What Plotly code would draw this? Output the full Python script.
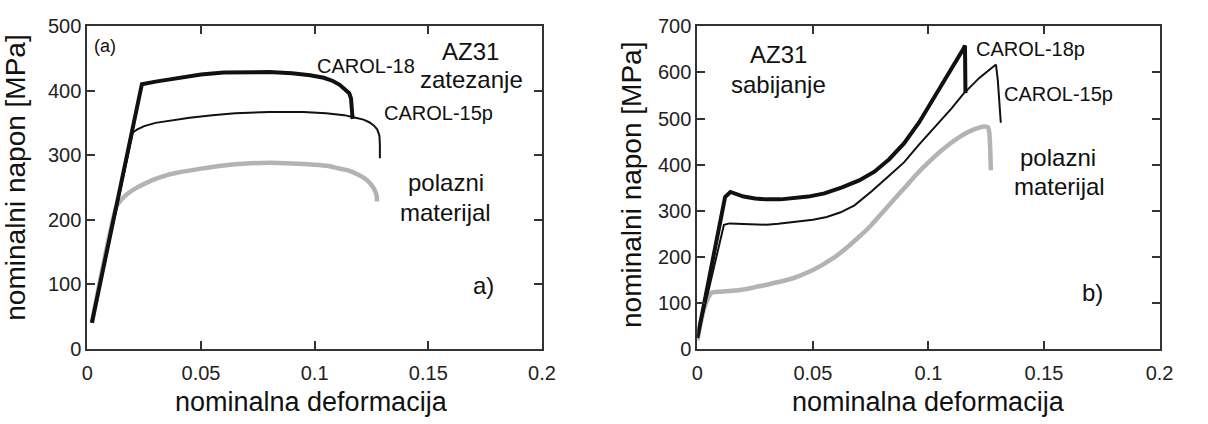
import plotly.graph_objects as go

# Tensile test (AZ31, zatezanje): nominal strain / nominal stress [MPa]
t_carol18_x = [0.002, 0.024, 0.030, 0.040, 0.050, 0.060, 0.070, 0.080, 0.090, 0.098, 0.104, 0.108,
               0.111, 0.1135, 0.1152, 0.1160, 0.1165, 0.1167]
t_carol18_y = [40, 410, 414, 420, 425, 428, 429, 429, 427, 424, 420, 415,
               409, 402, 396, 388, 372, 356]

t_carol15_x = [0.002, 0.0200, 0.022, 0.025, 0.030, 0.037, 0.045, 0.055, 0.065, 0.080, 0.095, 0.105,
               0.113, 0.118, 0.1215, 0.124, 0.126, 0.1275, 0.1285, 0.1287, 0.1287]
t_carol15_y = [40, 335, 340, 345, 350, 354, 358, 362, 365, 367, 367, 365,
               362, 358, 355, 351, 346, 340, 330, 315, 295]

t_base_x = [0.002, 0.0128, 0.015, 0.018, 0.022, 0.026, 0.030, 0.035, 0.040, 0.050, 0.060, 0.070,
            0.080, 0.090, 0.100, 0.106, 0.110, 0.115, 0.119, 0.122, 0.1245, 0.1262, 0.1272, 0.1274]
t_base_y = [40, 220, 231, 241, 250, 257, 263, 269, 273, 279, 284, 287,
            288, 287, 285, 283, 280, 276, 270, 264, 256, 247, 238, 228]

# Compression test (AZ31, sabijanje)
c_carol18_x = [0.0, 0.012, 0.0143, 0.017, 0.020, 0.025, 0.030, 0.036, 0.042, 0.048, 0.055, 0.0626,
               0.070, 0.0766, 0.083, 0.0894, 0.096, 0.1038, 0.110, 0.115, 0.1158, 0.1160]
c_carol18_y = [25, 330, 341, 337, 331, 327, 325, 325, 327, 331, 338, 351,
               366, 385, 412, 446, 492, 556, 606, 650, 658, 555]

c_carol15_x = [0.0, 0.0115, 0.014, 0.020, 0.030, 0.035, 0.040, 0.045, 0.050, 0.056, 0.062, 0.068,
               0.0753, 0.082, 0.0894, 0.096, 0.1038, 0.110, 0.115, 0.122, 0.1292, 0.1300, 0.1313]
c_carol15_y = [25, 270, 273, 272, 270, 272, 275, 278, 281, 287, 297, 312,
               342, 372, 405, 444, 487, 522, 553, 588, 617, 583, 491]

c_base_x = [0.0, 0.003, 0.0062, 0.010, 0.015, 0.020, 0.025, 0.030, 0.035, 0.040, 0.045, 0.050,
            0.055, 0.060, 0.065, 0.070, 0.075, 0.080, 0.085, 0.090, 0.095, 0.100, 0.105, 0.110,
            0.115, 0.120, 0.124, 0.1258, 0.1264, 0.1270]
c_base_y = [20, 90, 123, 125, 127, 130, 135, 140, 146, 152, 161, 172,
            186, 202, 222, 244, 268, 296, 324, 352, 380, 405, 428, 448,
            465, 477, 483, 481, 465, 388]

x_ticks = [0, 0.05, 0.1, 0.15, 0.2]
x_tick_text = ["0", "0.05", "0.1", "0.15", "0.2"]
y_ticks_tension = [0, 100, 200, 300, 400, 500]
y_ticks_compression = [0, 100, 200, 300, 400, 500, 600, 700]

W, H = 1208, 424
FONT = "Liberation Sans, Arial, sans-serif"
BLACK = "#111111"
GREY = "#b3b3b3"

fig = go.Figure()

def add_curves(xa, ya, base, c15, c18):
    fig.add_trace(go.Scatter(x=base[0], y=base[1], mode="lines", xaxis=xa, yaxis=ya,
                             line=dict(color=GREY, width=4.5, shape="spline", smoothing=0.6),
                             showlegend=False))
    fig.add_trace(go.Scatter(x=c15[0], y=c15[1], mode="lines", xaxis=xa, yaxis=ya,
                             line=dict(color=BLACK, width=2), showlegend=False))
    fig.add_trace(go.Scatter(x=c18[0], y=c18[1], mode="lines", xaxis=xa, yaxis=ya,
                             line=dict(color=BLACK, width=4), showlegend=False))

add_curves("x", "y", (t_base_x, t_base_y), (t_carol15_x, t_carol15_y), (t_carol18_x, t_carol18_y))
add_curves("x2", "y2", (c_base_x, c_base_y), (c_carol15_x, c_carol15_y), (c_carol18_x, c_carol18_y))

axis_style = dict(showline=True, linecolor="#333333", linewidth=2, mirror="ticks",
                  ticks="inside", ticklen=8, tickwidth=2, tickcolor="#333333",
                  showgrid=False, zeroline=False,
                  tickfont=dict(family=FONT, size=20, color="#222222"))

def px(x):
    return x / W

def py(y):
    return 1 - y / H

fig.update_layout(
    width=W, height=H,
    margin=dict(l=0, r=0, t=0, b=0),
    paper_bgcolor="white", plot_bgcolor="white",
    xaxis=dict(domain=[px(82.7), px(545)], range=[0, 0.2], tickvals=x_ticks, ticktext=x_tick_text,
               anchor="y", ticklabelstandoff=5, **axis_style),
    yaxis=dict(domain=[py(356), py(16)], range=[0, 500], tickvals=y_ticks_tension,
               anchor="x", **axis_style),
    xaxis2=dict(domain=[px(703), px(1173)], range=[0, 0.2], tickvals=x_ticks, ticktext=x_tick_text,
                anchor="y2", ticklabelstandoff=5, **axis_style),
    yaxis2=dict(domain=[py(357), py(16)], range=[0, 700], tickvals=y_ticks_compression,
                anchor="x2", **axis_style),
)

def label(text, x, y, size, angle=0, pad=1):
    fig.add_annotation(text=text, x=px(x), y=py(y), xref="paper", yref="paper",
                       showarrow=False, xanchor="center", yanchor="middle", textangle=angle,
                       borderpad=pad,
                       font=dict(family=FONT, size=size, color="#111111"))

# axis titles
label("nominalni napon [MPa]", 10, 176, 28, -90)
label("nominalna deformacija", 311, 412, 27, pad=0)
label("nominalni napon [MPa]", 636, 183, 28, -90)
label("nominalna deformacija", 938, 412, 27, pad=0)

# tension panel texts
label("(a)", 101, 37, 18)
label("CAROL-18", 366, 58, 20)
label("AZ31", 472, 43, 24)
label("zatezanje", 473, 72, 24)
label("CAROL-15p", 440, 108, 20)
label("polazni", 447, 181, 24)
label("materijal", 447, 212, 24)
label("a)", 486, 290, 24)

# compression panel texts
label("AZ31", 786, 46, 24)
label("sabijanje", 786, 78, 24)
label("CAROL-18p", 1042, 40, 20)
label("CAROL-15p", 1070, 88, 20)
label("polazni", 1070, 155, 24)
label("materijal", 1071, 185, 24)
label("b)", 1105, 297, 24)

fig.write_html("out.html")
